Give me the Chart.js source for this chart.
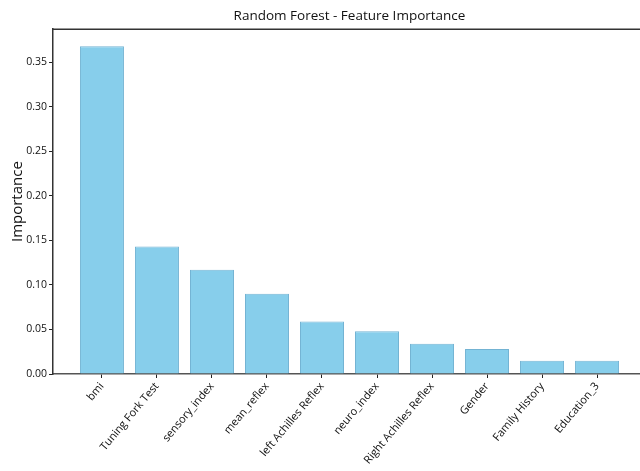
<!DOCTYPE html>
<html>
<head>
<meta charset="utf-8">
<script src="https://cdn.jsdelivr.net/npm/chart.js@4.4.1/dist/chart.umd.min.js"></script>
<style>
  html, body { margin: 0; padding: 0; background: #fff; overflow: hidden; }
  #wrap { width: 640px; height: 471px; overflow: hidden; }
</style>
</head>
<body>
<div id="wrap"><canvas id="featureChart" width="646" height="471"></canvas></div>
<script>
const features = ['bmi', 'Tuning Fork Test', 'sensory_index', 'mean_reflex', 'left Achilles Reflex',
    'neuro_index', 'Right Achilles Reflex', 'Gender', 'Family History', 'Education_3'];
const importance = [0.368, 0.143, 0.117, 0.090, 0.059, 0.048, 0.034, 0.028, 0.015, 0.015];
const yTicks = [0.00, 0.05, 0.10, 0.15, 0.20, 0.25, 0.30, 0.35];

// top spine like matplotlib's box
const frameTop = {
    id: 'frameTop',
    afterDraw(chart) {
        const { ctx, chartArea } = chart;
        ctx.save();
        ctx.strokeStyle = '#333';
        ctx.lineWidth = 1.5;
        ctx.beginPath();
        ctx.moveTo(chartArea.left, chartArea.top);
        ctx.lineTo(chartArea.right, chartArea.top);
        ctx.stroke();
        ctx.restore();
    }
};

document.addEventListener('DOMContentLoaded', function() {
    const ctx = document.getElementById('featureChart').getContext('2d');
    new Chart(ctx, {
        type: 'bar',
        data: {
            datasets: [{
                label: 'Importance',
                data: features.map((f, i) => ({ x: i, y: importance[i] })),
                backgroundColor: '#87ceeb',
                borderColor: 'rgba(80, 160, 200, 0.8)',
                borderWidth: 1,
                categoryPercentage: 1.0,
                barPercentage: 0.8
            }]
        },
        options: {
            responsive: false,
            animation: false,
            devicePixelRatio: 1,
            layout: { padding: 0 },
            plugins: {
                legend: { display: false },
                tooltip: { enabled: false },
                title: {
                    display: true,
                    text: 'Random Forest - Feature Importance',
                    color: '#111',
                    fullSize: false,
                    font: { family: 'Open Sans', size: 13.5, weight: 'normal' },
                    padding: { top: 8, bottom: 5 }
                }
            },
            scales: {
                x: {
                    type: 'linear',
                    offset: false,
                    min: -0.89,
                    max: 9.89,
                    grid: { display: true, offset: false, drawOnChartArea: false, tickLength: 4, tickColor: '#222' },
                    border: { display: true, color: '#555', width: 1.5 },
                    ticks: {
                        stepSize: 1,
                        includeBounds: false,
                        autoSkip: false,
                        minRotation: 50,
                        maxRotation: 50,
                        padding: 2,
                        color: '#111',
                        font: { family: 'Open Sans', size: 11 },
                        callback: (v) => Number.isInteger(v) ? features[v] : ''
                    },
                    afterFit: (scale) => { scale.height = 97; }
                },
                y: {
                    min: 0,
                    max: 0.387,
                    grid: { display: true, drawOnChartArea: false, tickLength: 4, tickColor: '#222' },
                    border: { display: true, color: '#333', width: 1.5 },
                    ticks: {
                        stepSize: 0.05,
                        includeBounds: false,
                        padding: 2,
                        color: '#111',
                        font: { family: 'Open Sans', size: 10.5 },
                        callback: (v) => {
                            const t = yTicks.find(k => Math.abs(k - v) < 1e-6);
                            return t === undefined ? '' : t.toFixed(2);
                        }
                    },
                    title: {
                        display: true,
                        text: 'Importance',
                        color: '#111',
                        font: { family: 'Open Sans', size: 15 },
                        padding: { top: 9, bottom: 0 }
                    },
                    afterFit: (scale) => { scale.width = 53; }
                }
            }
        },
        plugins: [frameTop]
    });
});
</script>
</body>
</html>
